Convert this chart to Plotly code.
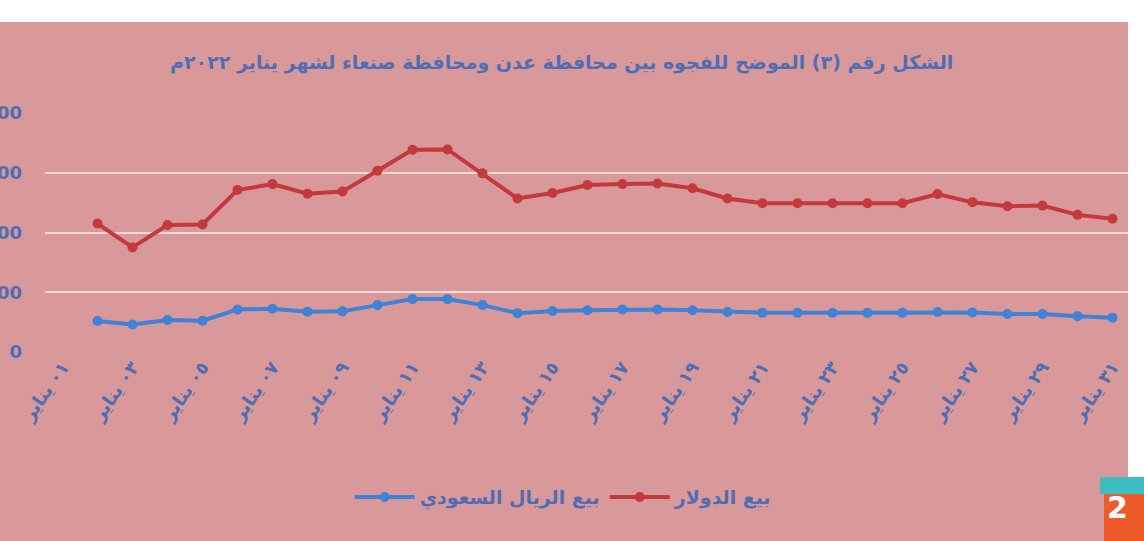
import plotly.graph_objects as go

# Days of January 2022 (Arabic-Indic numerals), one category per day
day_digits = ["٠١", "٠٢", "٠٣", "٠٤", "٠٥", "٠٦", "٠٧", "٠٨", "٠٩", "١٠",
              "١١", "١٢", "١٣", "١٤", "١٥", "١٦", "١٧", "١٨", "١٩", "٢٠",
              "٢١", "٢٢", "٢٣", "٢٤", "٢٥", "٢٦", "٢٧", "٢٨", "٢٩", "٣٠", "٣١"]
days = [d + " يناير" for d in day_digits]

# Gap between Aden and Sanaa selling rates (no reading on 1 January)
usd_gap = [None, 430, 350, 425, 427, 542, 562, 530, 537, 607, 677, 678, 598,
           514, 532, 559, 562, 564, 548, 514, 498, 498, 498, 498, 498, 529,
           501, 488, 490, 459, 446]
sar_gap = [None, 104, 92, 107, 105, 142, 145, 135, 136, 157, 177, 177, 157,
           130, 137, 140, 142, 142, 140, 134, 131, 131, 131, 131, 131, 134,
           132, 127, 127, 120, 115]

y_ticks = [0, 200, 400, 600, 800]

title_text = "الشكل رقم (٣) الموضح للفجوه بين محافظة عدن ومحافظة صنعاء لشهر يناير ٢٠٢٢م"

BLUE_TEXT = "#4f6db3"
RED = "#c3393c"
BLUE = "#3f82d6"
BG = "#d9999b"
FONT = "DejaVu Sans"

fig = go.Figure()
fig.add_trace(go.Scatter(
    x=days, y=sar_gap, name="<b>بيع الريال السعودي</b>", mode="lines+markers",
    line=dict(color=BLUE, width=4), marker=dict(color=BLUE, size=10),
))
fig.add_trace(go.Scatter(
    x=days, y=usd_gap, name="<b>بيع الدولار</b>", mode="lines+markers",
    line=dict(color=RED, width=4), marker=dict(color=RED, size=10),
))

fig.update_layout(
    width=1144, height=541,
    paper_bgcolor=BG, plot_bgcolor=BG,
    margin=dict(l=45, r=14, t=113, b=189, autoexpand=False),
    font=dict(family=FONT, color=BLUE_TEXT),
    title=dict(text="<b>" + title_text + "</b>", x=0.491, xanchor="center",
               y=1 - 62 / 541, yanchor="middle",
               font=dict(size=19, color=BLUE_TEXT, family=FONT)),
    xaxis=dict(
        type="category", categoryorder="array", categoryarray=days,
        tickmode="array", tickvals=days[::2],
        ticktext=["<b>" + d + "</b>" for d in days[::2]],
        tickangle=-55, showgrid=False, showline=False, zeroline=False,
        ticks="", tickfont=dict(size=18, color=BLUE_TEXT, family=FONT),
        automargin=False, range=[-0.5, 30.5],
    ),
    yaxis=dict(
        range=[0, 800], tickmode="array", tickvals=y_ticks,
        ticktext=["<b>%d</b>" % v for v in y_ticks],
        showgrid=True, gridcolor="#f2dada", gridwidth=2,
        zeroline=False, showline=False, ticks="",
        ticklabelstandoff=22,
        tickfont=dict(size=18, color=BLUE_TEXT, family=FONT),
        automargin=False,
    ),
    legend=dict(orientation="h", x=0.478, xanchor="center",
                y=-0.607, yanchor="middle", bgcolor="rgba(0,0,0,0)",
                font=dict(size=19, color=BLUE_TEXT, family=FONT),
                traceorder="normal", itemwidth=60),
    showlegend=True,
)

# Page frame: white strip above and beside the chart, slide corner badge
fig.add_shape(type="rect", xref="paper", yref="paper",
              x0=-0.1, x1=1.1, y0=1 + 91 / 239, y1=1.6,
              fillcolor="white", line_width=0, layer="above")
fig.add_shape(type="rect", xref="paper", yref="paper",
              x0=1 - 2 / 1085, x1=1.1, y0=(352 - 477) / 239, y1=1.6,
              fillcolor="white", line_width=0, layer="above")
fig.add_shape(type="rect", xref="paper", yref="paper",
              x0=(1100 - 45) / 1085, x1=1.1, y0=(352 - 494) / 239,
              y1=(352 - 477) / 239,
              fillcolor="#3dbfc2", line_width=0, layer="above")
fig.add_shape(type="rect", xref="paper", yref="paper",
              x0=(1104 - 45) / 1085, x1=1.1, y0=-1.0, y1=(352 - 494) / 239,
              fillcolor="#ef5a2a", line_width=0, layer="above")
fig.add_annotation(text="<b>2</b>", xref="paper", yref="paper",
                   x=(1130 - 45) / 1085, y=(352 - 527) / 239,
                   showarrow=False, font=dict(size=30, color="white", family=FONT))

fig.write_html("out.html")
